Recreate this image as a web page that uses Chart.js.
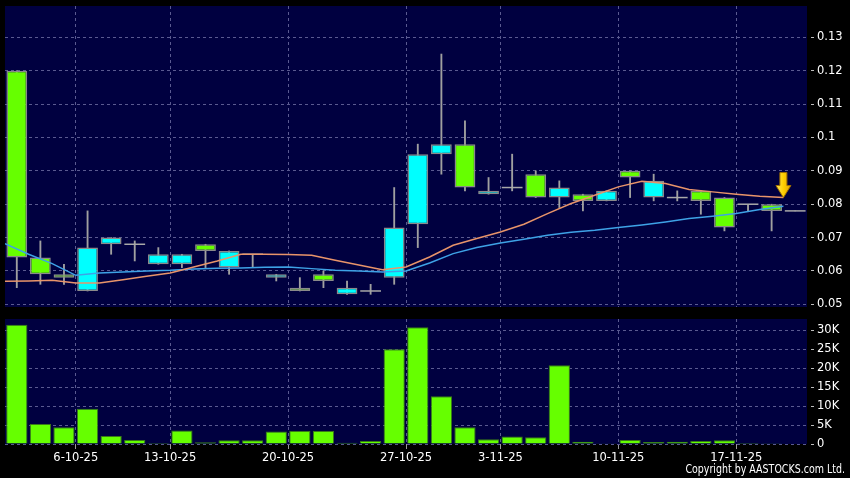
<!DOCTYPE html>
<html>
<head>
<meta charset="utf-8">
<script src="https://cdn.jsdelivr.net/npm/chart.js@4.4.1/dist/chart.umd.min.js"></script>
<style>
  html, body { margin: 0; padding: 0; background: #000; }
  #wrap { position: relative; width: 850px; height: 478px; overflow: hidden; background: #000; }
  canvas { position: absolute; left: 0; }
  #priceChart { top: 0; }
  #volChart { top: 310px; }
  #copy {
    position: absolute; right: 5px; top: 461px; color: #fff;
    font: 13px "DejaVu Sans Condensed", "DejaVu Sans", sans-serif;
    white-space: nowrap;
    transform: scaleX(0.81);
    transform-origin: right top;
  }
</style>
</head>
<body>
<div id="wrap">
  <canvas id="priceChart" width="850" height="316"></canvas>
  <canvas id="volChart" width="850" height="168"></canvas>
  <div id="copy">Copyright by AASTOCKS.com Ltd.</div>
</div>
<script>
// trading days shown on the chart
const dates = ["30-9-25", "2-10-25", "3-10-25", "6-10-25", "8-10-25", "9-10-25", "10-10-25",
  "13-10-25", "14-10-25", "15-10-25", "16-10-25", "17-10-25",
  "20-10-25", "21-10-25", "22-10-25", "23-10-25", "24-10-25",
  "27-10-25", "28-10-25", "30-10-25", "31-10-25",
  "3-11-25", "4-11-25", "5-11-25", "6-11-25", "7-11-25",
  "10-11-25", "11-11-25", "12-11-25", "13-11-25", "14-11-25",
  "17-11-25", "18-11-25", "19-11-25"];

const openP  = [0.120, 0.064, 0.059, 0.054, 0.068, 0.068, 0.062, 0.062, 0.068, 0.061, 0.065, 0.058, 0.055, 0.059, 0.053, 0.054, 0.058,
  0.074, 0.095, 0.098, 0.083, 0.085, 0.089, 0.082, 0.083, 0.081, 0.090, 0.082, 0.082, 0.084, 0.082, 0.080, 0.080, 0.078];
const closeP = [0.064, 0.059, 0.058, 0.067, 0.070, 0.068, 0.065, 0.065, 0.066, 0.066, 0.065, 0.059, 0.054, 0.057, 0.055, 0.054, 0.073,
  0.095, 0.098, 0.085, 0.084, 0.085, 0.082, 0.085, 0.081, 0.084, 0.088, 0.087, 0.082, 0.081, 0.073, 0.080, 0.078, 0.078];
const highP  = [0.120, 0.069, 0.062, 0.078, 0.070, 0.069, 0.067, 0.065, 0.068, 0.066, 0.065, 0.059, 0.058, 0.060, 0.057, 0.056, 0.085,
  0.098, 0.125, 0.105, 0.088, 0.095, 0.090, 0.087, 0.083, 0.084, 0.090, 0.089, 0.084, 0.084, 0.082, 0.080, 0.080, 0.078];
const lowP   = [0.055, 0.056, 0.056, 0.054, 0.065, 0.063, 0.062, 0.061, 0.061, 0.059, 0.061, 0.057, 0.054, 0.055, 0.053, 0.053, 0.056,
  0.067, 0.089, 0.084, 0.083, 0.084, 0.082, 0.079, 0.078, 0.081, 0.082, 0.081, 0.081, 0.077, 0.072, 0.078, 0.072, 0.078];

const volume = [31500, 5300, 4400, 9300, 2100, 1070, 270, 3550, 440, 980, 980, 3300, 3400, 3400, 350, 800, 25000,
  30800, 12600, 4400, 1240, 1950, 1800, 20800, 600, 90, 1070, 530, 600, 800, 980, 270, 50, 0];

// moving averages, one value per day boundary (first one belongs to the day before the window)
const maShort = [0.0569, 0.0570, 0.0572, 0.0564, 0.0564, 0.0574, 0.0584, 0.0594, 0.0612, 0.0630, 0.0650, 0.0650, 0.0649, 0.0647,
  0.0632, 0.0618, 0.0604, 0.0612, 0.0642, 0.0677, 0.0697, 0.0717, 0.0740, 0.0772, 0.0802, 0.0827, 0.0852, 0.0869,
  0.0862, 0.0844, 0.0837, 0.0830, 0.0824, 0.0820];
const maLong = [0.0682, 0.0650, 0.0622, 0.0587, 0.0594, 0.0597, 0.0600, 0.0602, 0.0606, 0.0608, 0.0609, 0.0611, 0.0612, 0.0607,
  0.0602, 0.0600, 0.0597, 0.0600, 0.0624, 0.0652, 0.0670, 0.0684, 0.0695, 0.0707, 0.0716, 0.0722, 0.0730, 0.0738,
  0.0747, 0.0757, 0.0764, 0.0772, 0.0784, 0.0794];

const xTickLabels = ["6-10-25", "13-10-25", "20-10-25", "27-10-25", "3-11-25", "10-11-25", "17-11-25"];
const priceTicks = [0.05, 0.06, 0.07, 0.08, 0.09, 0.10, 0.11, 0.12, 0.13];
const volumeTicks = [0, 5000, 10000, 15000, 20000, 25000, 30000];

const NAVY = "#000040";
const GRID = "#5a5a90";
const UP = "#00ffff";
const DOWN = "#66ff00";

Chart.defaults.font.family = "'DejaVu Sans', sans-serif";
Chart.defaults.font.size = 11.5;
Chart.defaults.color = "#ffffff";

// week separators sit on the left edge of each labelled day
const xTicks = xTickLabels.map(d => dates.indexOf(d) - 0.5);
const labelAt = {};
xTickLabels.forEach((d, k) => { labelAt[xTicks[k]] = d; });

const navyBg = {
  id: "navyBg",
  beforeDraw(chart) {
    const { ctx, chartArea: a } = chart;
    ctx.save();
    ctx.fillStyle = NAVY;
    ctx.fillRect(a.left, a.top, a.right - a.left, a.bottom - a.top);
    ctx.restore();
  }
};

function xScale(showLabels) {
  return {
    type: "linear",
    min: -0.5,
    max: dates.length - 0.5,
    offset: false,
    afterBuildTicks: s => { s.ticks = xTicks.map(v => ({ value: v })); },
    afterFit: s => {
      s.height = showLabels ? 34 : 0;
      s.paddingLeft = 0;
      s.paddingRight = 0;
    },
    ticks: {
      display: showLabels,
      autoSkip: false,
      maxRotation: 0,
      minRotation: 0,
      padding: 2,
      color: "#ffffff",
      callback: v => labelAt[v] || ""
    },
    grid: {
      offset: false,
      color: GRID,
      drawTicks: showLabels,
      tickLength: 5,
      tickColor: "#9a9a9a"
    },
    border: { display: false, dash: [3, 3] }
  };
}

function yScale(min, max, ticks, fmt) {
  return {
    type: "linear",
    position: "right",
    min: min,
    max: max,
    beginAtZero: false,
    afterBuildTicks: s => { s.ticks = ticks.map(v => ({ value: v })); },
    afterFit: s => {
      s.width = 43;
      s.paddingTop = 0;
      s.paddingBottom = 0;
    },
    ticks: { padding: 3, color: "#ffffff", callback: fmt },
    grid: {
      color: GRID,
      drawTicks: true,
      tickLength: 7,
      tickColor: "#bbbbbb",
      tickBorderDash: [3, 4],
      tickBorderDashOffset: 3
    },
    border: { display: false, dash: [3, 3] }
  };
}

// doji crosses and the yellow marker at the end of the averages
const overlay = {
  id: "overlay",
  afterDatasetDraw(chart, args) {
    if (args.index !== 1) return;
    const ctx = chart.ctx;
    const y = chart.scales.y;
    const bars = args.meta.data;
    ctx.save();
    ctx.strokeStyle = "#a8a8a8";
    ctx.lineWidth = 1.5;
    openP.forEach((o, i) => {
      if (o !== closeP[i]) return;
      const b = bars[i];
      const py = y.getPixelForValue(o);
      ctx.beginPath();
      ctx.moveTo(b.x - b.width / 2, py);
      ctx.lineTo(b.x + b.width / 2, py);
      ctx.stroke();
    });
    ctx.restore();
  },
  afterDatasetsDraw(chart) {
    const ctx = chart.ctx;
    const last = maShort.length - 1;
    const ax = chart.scales.x.getPixelForValue(last - 0.5);
    const tip = chart.scales.y.getPixelForValue(maShort[last]);
    ctx.save();
    const g = ctx.createLinearGradient(ax - 8, 0, ax + 8, 0);
    g.addColorStop(0, "#ffe866");
    g.addColorStop(0.5, "#ffd000");
    g.addColorStop(1, "#e0a000");
    ctx.fillStyle = g;
    ctx.strokeStyle = "#a07000";
    ctx.lineWidth = 1;
    ctx.beginPath();
    ctx.moveTo(ax - 3.5, tip - 25);
    ctx.lineTo(ax + 3.5, tip - 25);
    ctx.lineTo(ax + 3.5, tip - 12);
    ctx.lineTo(ax + 7.5, tip - 12);
    ctx.lineTo(ax, tip);
    ctx.lineTo(ax - 7.5, tip - 12);
    ctx.lineTo(ax - 3.5, tip - 12);
    ctx.closePath();
    ctx.fill();
    ctx.stroke();
    ctx.restore();
  }
};

const idx = dates.map((d, i) => i);

new Chart(document.getElementById("priceChart"), {
  type: "bar",
  data: {
    datasets: [
      {
        type: "line",
        order: 0,
        data: maShort.map((v, i) => ({ x: i - 0.5, y: v })),
        borderColor: "#e8946a",
        borderWidth: 1.5,
        pointRadius: 0,
        tension: 0
      },
      {
        order: 1,
        grouped: false,
        data: idx.map(i => ({ x: i, y: [openP[i], closeP[i]] })),
        backgroundColor: idx.map(i => closeP[i] > openP[i] ? UP : (closeP[i] < openP[i] ? DOWN : "#a8a8a8")),
        borderColor: "#8a8a8a",
        borderWidth: 1.5,
        borderSkipped: false,
        barPercentage: 0.88,
        categoryPercentage: 1
      },
      {
        order: 2,
        grouped: false,
        data: idx.map(i => ({ x: i, y: [lowP[i], highP[i]] })),
        backgroundColor: "#a0a0a0",
        barThickness: 1.2
      },
      {
        type: "line",
        order: 0,
        data: maLong.map((v, i) => ({ x: i - 0.5, y: v })),
        borderColor: "#3ea2e6",
        borderWidth: 1.5,
        pointRadius: 0,
        tension: 0
      }
    ]
  },
  options: {
    responsive: false,
    animation: false,
    layout: { padding: { left: 5, top: 6, right: 0, bottom: 9 } },
    plugins: { legend: { display: false }, tooltip: { enabled: false } },
    scales: {
      x: xScale(false),
      y: yScale(0.0492, 0.1394, priceTicks, v => String(+v.toFixed(2)))
    }
  },
  plugins: [navyBg, overlay]
});

new Chart(document.getElementById("volChart"), {
  type: "bar",
  data: {
    datasets: [{
      data: idx.map(i => ({ x: i, y: volume[i] })),
      backgroundColor: DOWN,
      borderColor: "#3a7a18",
      borderWidth: 1,
      barPercentage: 0.9,
      categoryPercentage: 1
    }]
  },
  options: {
    responsive: false,
    animation: false,
    layout: { padding: { left: 5, top: 9, right: 0, bottom: 0 } },
    plugins: { legend: { display: false }, tooltip: { enabled: false } },
    scales: {
      x: xScale(true),
      y: yScale(0, 33000, volumeTicks, v => v === 0 ? "0" : (v / 1000) + "K")
    }
  },
  plugins: [navyBg]
});
</script>
</body>
</html>
